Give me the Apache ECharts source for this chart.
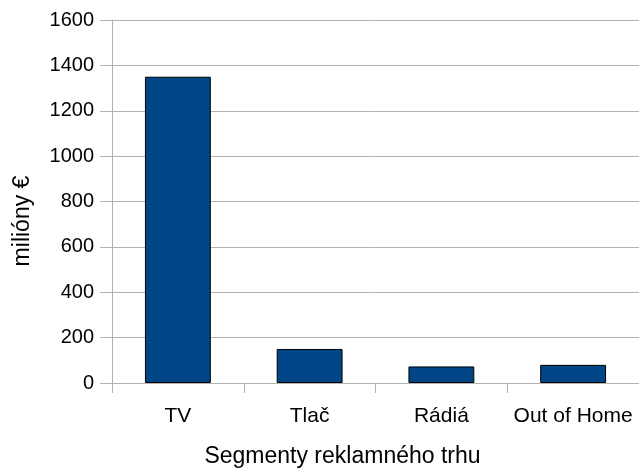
<!DOCTYPE html>
<html>
<head>
<meta charset="utf-8">
<script src="https://cdn.jsdelivr.net/npm/echarts@6/dist/echarts.min.js"></script>
<style>
  html, body { margin: 0; padding: 0; background: #fff; }
  #chart { width: 639px; height: 468px; }
</style>
</head>
<body>
<div id="chart"></div>
<script>
// Advertising market segments, in millions of euros
var categories = ['TV', 'Tlač', 'Rádiá', 'Out of Home'];
var values = [1350, 150, 73, 80];
var yTicks = { min: 0, max: 1600, interval: 200 };

var FONT = '"Liberation Sans", Arial, sans-serif';
var GRID = '#b3b3b3';

var chart = echarts.init(document.getElementById('chart'), null, { renderer: 'canvas' });
chart.setOption({
  animation: false,
  backgroundColor: '#ffffff',
  grid: { left: 112, right: 0, top: 20, bottom: 85, containLabel: false, outerBoundsMode: 'none' },
  xAxis: {
    type: 'category',
    data: categories,
    name: 'Segmenty reklamného trhu',
    nameLocation: 'middle',
    nameGap: 62,
    nameTextStyle: { fontFamily: FONT, fontSize: 23, color: '#000', padding: [0, 66, 0, 0] },
    axisLine: { show: true, lineStyle: { color: GRID, width: 1 } },
    axisTick: { show: true, interval: 0, alignWithLabel: false, length: 10, lineStyle: { color: GRID } },
    axisLabel: { interval: 0, fontFamily: FONT, fontSize: 21, color: '#000', margin: 23 },
    splitLine: { show: false }
  },
  yAxis: {
    type: 'value',
    min: yTicks.min,
    max: yTicks.max,
    interval: yTicks.interval,
    name: 'milióny €',
    nameLocation: 'middle',
    nameGap: 78,
    nameTextStyle: { fontFamily: FONT, fontSize: 23, color: '#000', padding: [0, 39, 0, 0] },
    axisLine: { show: true, lineStyle: { color: GRID, width: 1 } },
    axisTick: { show: true, length: 12, lineStyle: { color: GRID } },
    axisLabel: {
      fontFamily: FONT, fontSize: 20, color: '#000', margin: 18,
      formatter: function (v) { return String(v); }
    },
    splitLine: { show: true, lineStyle: { color: GRID, width: 1 } }
  },
  series: [{
    type: 'bar',
    data: values,
    barWidth: '50%',
    itemStyle: { color: '#004586', borderColor: '#000000', borderWidth: 1 }
  }]
});
</script>
</body>
</html>
